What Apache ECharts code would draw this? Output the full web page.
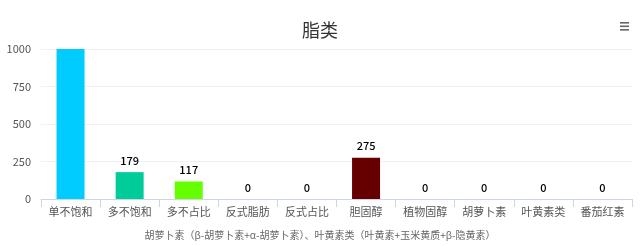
<!DOCTYPE html>
<html>
<head>
<meta charset="utf-8">
<script src="https://cdn.jsdelivr.net/npm/echarts@6/dist/echarts.min.js"></script>
<style>
html, body { margin: 0; padding: 0; background: #fff; }
#chart { width: 640px; height: 246px; }
</style>
</head>
<body>
<div id="chart"></div>
<script>
var categories = ['单不饱和', '多不饱和', '多不占比', '反式脂肪', '反式占比', '胆固醇', '植物固醇', '胡萝卜素', '叶黄素类', '番茄红素'];
var values = [1000, 179, 117, 0, 0, 275, 0, 0, 0, 0];
var colors = ['#00ccff', '#00cc99', '#66ff00', '#7cb5ec', '#434348', '#660000', '#90ed7d', '#f7a35c', '#8085e9', '#f15c80'];
var yTicks = [0, 250, 500, 750, 1000];
var note = '胡萝卜素（β-胡萝卜素+α-胡萝卜素）、叶黄素类（叶黄素+玉米黄质+β-隐黄素）';

var font = '"Noto Sans CJK SC", "Noto Sans", sans-serif';
var myChart = echarts.init(document.getElementById('chart'));

var option = {
    backgroundColor: '#FFFFFF',
    animation: false,
    title: [{
        text: '脂类',
        left: 'center',
        top: 16,
        textStyle: { fontSize: 18, fontWeight: 'normal', color: '#333333', fontFamily: font }
    }, {
        text: note,
        left: 'center',
        top: 225,
        textStyle: { fontSize: 10, fontWeight: 'normal', color: '#666666', fontFamily: font }
    }],
    grid: { left: 41, right: 8, top: 49, bottom: 47 },
    xAxis: {
        type: 'category',
        data: categories,
        axisLine: { lineStyle: { color: '#ccd6eb' } },
        axisTick: { show: true, length: 8, lineStyle: { color: '#ccd6eb' } },
        axisLabel: { color: '#555555', fontSize: 11, margin: 7, fontFamily: font, interval: 0 }
    },
    yAxis: {
        type: 'value',
        min: yTicks[0],
        max: yTicks[yTicks.length - 1],
        interval: 250,
        axisLine: { show: false },
        axisTick: { show: false },
        axisLabel: {
            color: '#555555', fontSize: 11, margin: 10, fontFamily: font,
            formatter: function (v) { return String(v); }
        },
        splitLine: { lineStyle: { color: '#eef1f7' } }
    },
    series: [{
        type: 'bar',
        barWidth: 28,
        data: values.map(function (v, i) {
            return {
                value: v,
                itemStyle: { color: colors[i] },
                // 顶部数值被裁掉
                label: { show: v < yTicks[yTicks.length - 1] }
            };
        }),
        label: {
            show: true,
            position: 'top',
            distance: 6,
            color: '#000000',
            fontSize: 11,
            fontWeight: 500,
            fontFamily: font
        }
    }],
    graphic: [{
        type: 'group',
        left: 620,
        top: 22,
        children: [
            { type: 'rect', shape: { x: 0, y: 0, width: 9, height: 1.6 }, style: { fill: '#666666' } },
            { type: 'rect', shape: { x: 0, y: 3.5, width: 9, height: 1.6 }, style: { fill: '#666666' } },
            { type: 'rect', shape: { x: 0, y: 7, width: 9, height: 1.6 }, style: { fill: '#666666' } }
        ]
    }]
};

myChart.setOption(option);
</script>
</body>
</html>
